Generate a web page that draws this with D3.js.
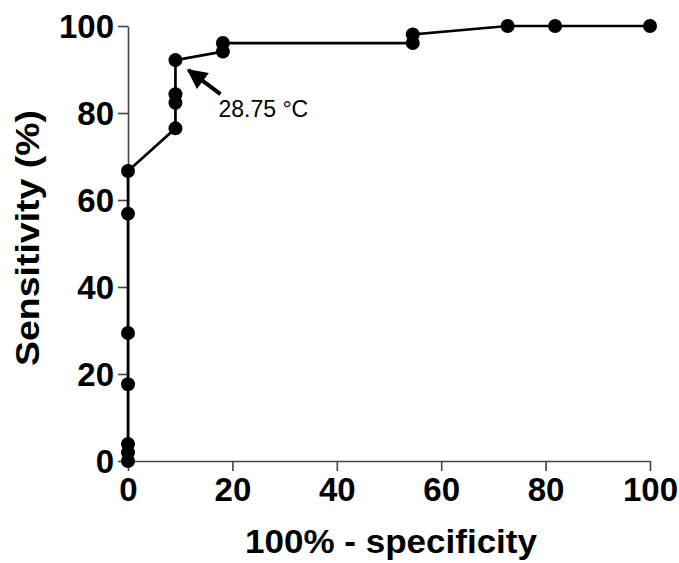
<!DOCTYPE html>
<html>
<head>
<meta charset="utf-8">
<script src="https://cdn.jsdelivr.net/npm/d3@7"></script>
<style>
  body { margin: 0; background: #fff; }
  text { font-family: "Liberation Sans", Arial, sans-serif; }
</style>
</head>
<body>
<svg id="roc-svg"></svg>
<script>
// ROC curve points: 100% - specificity (x) and sensitivity (y), in percent
var specComplement = [0, 0, 0, 0, 0, 0, 0, 9.09, 9.09, 9.09, 9.09, 18.18, 18.18, 54.55, 54.55, 72.73, 81.82, 100];
var sensitivity    = [0, 1.96, 3.92, 17.65, 29.41, 56.86, 66.67, 76.47, 82.35, 84.31, 92.16, 94.12, 96.08, 96.08, 98.04, 100, 100, 100];
var xTicks = [0, 20, 40, 60, 80, 100];
var yTicks = [0, 20, 40, 60, 80, 100];
var cutoffIndex = 10;
var cutoffLabel = "28.75 °C";

var width = 679;
var height = 563;
var margin = { top: 26, right: 29, bottom: 102, left: 128 };

var xScale = d3.scaleLinear().domain([0, 100]).range([margin.left, width - margin.right]);
var yScale = d3.scaleLinear().domain([0, 100]).range([height - margin.bottom, margin.top]);

var svg = d3.select("#roc-svg")
            .attr("width", width)
            .attr("height", height);

var dataset = specComplement.map(function(x, i) { return { x: x, y: sensitivity[i] }; });

// axes
var xAxis = svg.append("g")
    .attr("transform", "translate(0," + yScale(0) + ")")
    .call(d3.axisBottom(xScale).tickValues(xTicks).tickSize(10).tickPadding(6).tickSizeOuter(0));

var yAxis = svg.append("g")
    .attr("transform", "translate(" + xScale(0) + ",0)")
    .call(d3.axisLeft(yScale).tickValues(yTicks).tickSize(10).tickPadding(4).tickSizeOuter(0));

[xAxis, yAxis].forEach(function(g) {
  g.select(".domain").attr("stroke", "#444").attr("stroke-width", 1.6);
  g.selectAll(".tick line").attr("stroke", "#444").attr("stroke-width", 1.6);
  g.selectAll(".tick text")
    .attr("fill", "#000")
    .style("font-size", "33px")
    .style("font-weight", "bold");
});
yAxis.selectAll(".tick text").attr("dy", "0.36em");
xAxis.selectAll(".tick text").attr("dy", "0.72em");

svg.append("text")
    .attr("transform", "translate(" + 391 + "," + 553 + ")")
    .style("text-anchor", "middle")
    .style("font-size", "34px")
    .style("font-weight", "bold")
    .attr("textLength", 292)
    .attr("lengthAdjust", "spacingAndGlyphs")
    .text("100% - specificity");

svg.append("text")
    .attr("transform", "translate(" + 39 + "," + 238 + ") rotate(-90)")
    .style("text-anchor", "middle")
    .style("font-size", "34px")
    .style("font-weight", "bold")
    .attr("textLength", 256)
    .attr("lengthAdjust", "spacingAndGlyphs")
    .text("Sensitivity (%)");

// curve
var line = d3.line()
             .x(function(d) { return xScale(d.x); })
             .y(function(d) { return yScale(d.y); });

svg.append("path")
    .datum(dataset)
    .attr("d", line)
    .attr("fill", "none")
    .attr("stroke", "#000")
    .attr("stroke-width", 2.7);

svg.selectAll("circle.pt")
  .data(dataset)
  .enter().append("circle")
    .attr("class", "pt")
    .attr("cx", function(d) { return xScale(d.x); })
    .attr("cy", function(d) { return yScale(d.y); })
    .attr("r", 7)
    .attr("fill", "#000");

// cutoff annotation
var cx = xScale(specComplement[cutoffIndex]);
var cy = yScale(sensitivity[cutoffIndex]);

svg.append("defs").append("marker")
    .attr("id", "head")
    .attr("viewBox", "0 0 10 10")
    .attr("refX", 9)
    .attr("refY", 5)
    .attr("markerWidth", 5.5)
    .attr("markerHeight", 5)
    .attr("markerUnits", "strokeWidth")
    .attr("orient", "auto")
  .append("path")
    .attr("d", "M0,0 L10,5 L0,10 Z")
    .attr("fill", "#000");

svg.append("line")
    .attr("x1", cx + 45)
    .attr("y1", cy + 34)
    .attr("x2", cx + 13)
    .attr("y2", cy + 10)
    .attr("stroke", "#000")
    .attr("stroke-width", 4)
    .attr("marker-end", "url(#head)");

svg.append("text")
    .attr("x", cx + 43)
    .attr("y", cy + 57)
    .style("font-size", "23px")
    .attr("fill", "#000")
    .text(cutoffLabel);
</script>
</body>
</html>
